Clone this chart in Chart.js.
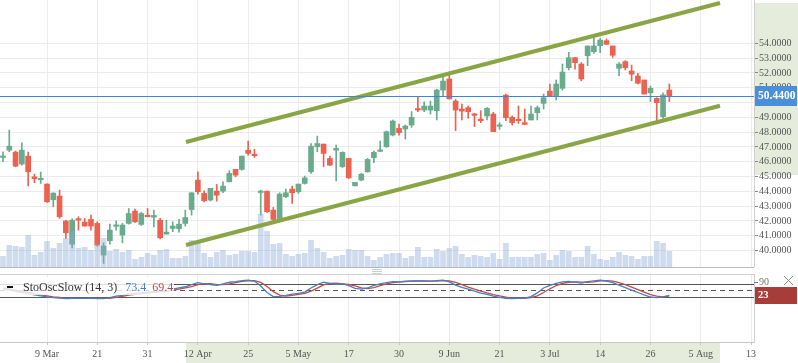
<!DOCTYPE html>
<html><head><meta charset="utf-8">
<script src="https://cdn.jsdelivr.net/npm/chart.js@4.4.1/dist/chart.umd.min.js"></script>
<style>html,body{margin:0;padding:0;background:#fff;overflow:hidden}canvas{display:block}</style>
</head><body>
<canvas id="c" width="798" height="363"></canvas>
<script>
// ---- data ----
const openP = [
46.29,46.78,46.65,45.84,46.38,44.98,44.78,44.49,43.43,43.68,
41.99,40.43,42.10,41.92,42.10,41.83,39.69,40.66,41.63,41.04,
41.83,42.66,41.76,42.32,42.25,42.05,41.11,41.49,41.47,41.83,
42.77,44.76,43.86,43.41,44.01,44.01,44.64,45.48,45.48,46.78,
46.51,43.92,44.01,42.73,42.10,43.63,44.15,43.97,44.53,45.32,
47.01,47.19,46.22,46.78,45.66,46.22,44.37,44.76,45.32,46.27,
46.70,47.01,47.80,48.25,48.21,48.48,49.56,49.49,49.49,49.45,
50.84,51.59,50.10,49.56,49.65,49.18,48.88,49.09,49.22,48.39,
50.50,49.00,48.82,48.64,48.82,49.31,49.94,50.77,50.44,50.96,
52.35,53.03,52.60,53.16,53.43,53.84,54.18,53.82,52.31,52.76,
52.13,51.79,51.52,50.66,50.28,49.04,50.84];
const highP = [
46.67,48.14,46.72,47.28,46.65,45.16,45.30,44.50,43.90,44.08,
42.05,42.14,42.28,42.17,42.39,41.94,40.52,41.78,41.99,41.83,
42.84,42.80,42.59,42.84,42.73,42.17,42.05,41.94,42.10,42.73,
43.90,45.32,44.04,44.20,44.46,44.64,45.39,45.48,46.38,47.39,
46.83,44.08,44.01,42.91,43.90,44.15,44.35,44.49,45.03,47.23,
47.73,47.19,46.38,47.12,46.67,46.22,44.60,45.21,46.22,46.72,
47.40,48.07,48.82,48.55,48.48,49.38,50.39,50.05,50.10,50.89,
51.74,51.97,50.21,49.90,49.76,49.27,49.45,49.65,49.33,48.64,
50.57,49.09,49.76,49.56,49.76,49.76,50.57,51.25,51.52,52.60,
53.39,53.03,52.69,53.82,54.52,54.34,54.29,53.82,52.69,52.83,
52.53,51.97,51.52,51.11,50.33,50.66,51.25];
const lowP = [
46.00,46.67,45.66,45.77,44.37,44.58,44.53,43.25,42.95,42.17,
40.82,40.18,41.38,41.65,41.38,40.30,39.13,40.43,41.38,40.52,
41.78,41.89,41.69,42.28,41.60,40.79,41.11,41.27,41.24,41.65,
42.39,43.81,43.29,43.34,43.34,43.90,44.64,44.98,45.43,46.45,
46.29,42.39,42.57,42.01,42.05,43.57,43.18,43.86,44.49,45.21,
46.67,45.66,45.73,44.71,45.61,44.87,44.37,44.71,45.28,45.93,
46.68,46.97,47.74,47.80,47.53,48.32,49.38,49.38,49.22,48.82,
50.44,50.24,48.10,48.82,48.93,48.37,48.64,48.82,48.03,48.19,
48.77,48.48,48.59,48.52,48.82,48.82,49.56,50.44,50.17,50.84,
52.20,52.26,51.47,52.49,53.32,53.37,53.93,53.05,51.81,52.20,
51.47,51.25,50.57,50.06,48.75,48.93,50.06];
const closeP = [
46.31,47.05,45.70,46.78,45.32,44.85,44.82,43.29,43.88,42.28,
41.20,42.05,42.05,41.65,41.65,40.36,40.30,41.38,41.67,41.72,
42.50,41.94,42.50,42.28,42.37,40.86,41.24,41.65,41.78,42.23,
43.90,43.97,43.36,44.20,43.74,44.35,45.21,45.09,46.38,46.56,
46.40,43.96,42.62,42.10,43.81,43.90,43.90,44.49,44.91,47.05,
47.23,46.56,45.77,46.90,46.63,44.91,44.60,45.16,46.15,46.63,
46.75,48.03,48.75,47.96,48.41,49.00,49.49,49.76,49.76,50.84,
51.45,50.24,49.49,49.42,49.38,49.13,48.77,49.60,48.03,48.43,
48.97,48.64,48.77,48.52,49.22,49.65,50.32,50.44,51.25,52.06,
53.03,52.69,51.59,53.82,53.82,54.22,53.93,53.19,52.60,52.35,
51.92,51.30,50.57,50.96,49.99,50.51,50.46];
const volumeM = [
1.1,2.2,2.1,2.0,3.2,1.2,1.5,2.6,1.9,2.4,
2.9,3.6,1.9,2.0,1.7,2.3,2.9,1.6,1.8,1.5,
1.7,0.8,1.0,1.4,1.2,1.7,1.8,0.9,0.9,1.1,
2.7,2.5,1.4,1.0,1.5,1.7,1.2,1.3,1.6,1.6,
1.5,5.3,3.6,2.3,2.4,1.3,1.1,1.3,1.4,2.7,
1.9,1.5,0.9,1.1,1.2,1.8,1.7,1.7,1.1,0.7,
1.0,1.3,1.4,1.4,0.9,1.1,2.0,1.0,1.0,1.8,
1.6,1.9,2.1,1.3,1.0,1.2,1.1,1.0,1.4,0.8,
2.4,1.0,1.0,1.0,1.0,1.3,1.4,0.7,1.2,1.7,
1.6,1.0,1.0,2.1,1.3,0.8,0.7,1.0,1.5,1.2,
1.1,0.8,1.1,1.1,2.6,2.4,1.6];
const stochK = [
58,52,46,41,34,28,24,19,15,13,
10,12,11,11,13,10,10,15,22,26,
33,35,38,41,44,46,49,56,62,68,
78,88,82,78,75,82,90,93,98,100,
96,72,40,20,21,26,32,36,42,62,
78,90,84,80,83,73,60,56,62,75,
82,88,93,92,95,97,96,95,95,98,
100,92,76,65,57,47,37,31,22,16,
12,10,12,13,20,38,62,75,85,92,
94,91,86,93,97,100,96,88,76,64,
52,40,28,18,15,19,26];
const stochD = [
62,57,52,46,40,34,29,24,19,16,
13,12,11,11,12,12,11,12,16,21,
27,31,35,38,41,44,46,50,56,62,
69,78,83,83,78,78,82,88,94,97,
98,89,69,44,27,22,26,31,36,47,
61,77,84,85,82,79,72,63,59,64,
73,82,88,91,93,95,96,96,95,96,
98,97,89,78,66,56,47,38,30,23,
17,13,12,12,15,24,40,58,74,84,
90,92,91,90,92,97,98,95,88,78,
66,54,42,30,22,18,23];
const xTickIndex = [7,15,23,31,39,47,55,63,71,79,87,95,103,111,119];
const xTickLabels = ['9 Mar','21','31','12 Apr','25','5 May','17','30','9 Jun','21','3 Jul','14','26','5 Aug','13'];
const priceTicks = [40,41,42,43,44,45,46,47,48,49,50,51,52,53,54];
const channelX = [29.11, 114.06];
const channelUpper = [47.33, 56.72];
const channelLower = [40.37, 49.78];
const channelHighlight = [45.1, 56.72];
const lastPrice = 50.44;
const oscLevels = [80, 50, 20];
const oscTopLabel = 90;
const oscLast = 23;
const legendName = 'StoOscSlow (14, 3)';
const legendValues = ['73.4', '69.4'];

// ---- styling ----
const GREEN = '#6aab8e', RED = '#ec6250';
const CHANNEL = '#8aa545';
const K_COLOR = '#4a7fc1', D_COLOR = '#c24b47';
const SERIF = "'Liberation Serif', 'Times New Roman', serif";
const OSC_TOP = 274;

const idx = openP.map((_, i) => i);
const candleColors = idx.map(i => closeP[i] >= openP[i] ? GREEN : RED);

const deco = {
  id: 'deco',
  beforeDraw(chart) {
    const {ctx, chartArea: a, scales: {x, y}} = chart;
    ctx.save();
    ctx.fillStyle = '#fff';
    ctx.fillRect(0, 0, chart.width, chart.height);
    ctx.fillStyle = '#e5ecdb';
    const t = y.getPixelForValue(channelHighlight[1]), b = y.getPixelForValue(channelHighlight[0]);
    ctx.fillRect(a.right + 1, t, chart.width - a.right - 1, b - t);
    const l = x.getPixelForValue(channelX[0]), r = x.getPixelForValue(channelX[1]);
    ctx.fillRect(l, a.bottom + 1, r - l, chart.height - a.bottom - 1);
    ctx.restore();
  },
  beforeDatasetsDraw(chart) {
    const {ctx, chartArea: a, scales: {yv, yo}} = chart;
    const base = Math.round(yv.getPixelForValue(0));
    ctx.save();
    ctx.fillStyle = '#fff';
    ctx.fillRect(0, base, a.right + 2, OSC_TOP - base);
    ctx.lineWidth = 1;
    ctx.strokeStyle = '#bdbdbd';
    ctx.beginPath(); ctx.moveTo(0, base + 0.5); ctx.lineTo(a.right, base + 0.5); ctx.stroke();
    ctx.strokeStyle = '#d2d2d2';
    ctx.beginPath(); ctx.moveTo(0, OSC_TOP + 0.5); ctx.lineTo(a.right, OSC_TOP + 0.5); ctx.stroke();
    oscLevels.forEach((v, k) => {
      const py = Math.round(yo.getPixelForValue(v)) + 0.5;
      ctx.strokeStyle = '#555';
      ctx.setLineDash(k === 1 ? [5, 4] : []);
      ctx.beginPath(); ctx.moveTo(0, py); ctx.lineTo(a.right, py); ctx.stroke();
    });
    ctx.setLineDash([]);
    ctx.restore();
  },
  afterDatasetsDraw(chart) {
    const {ctx, chartArea: a, scales: {y}} = chart;
    const py = Math.round(y.getPixelForValue(lastPrice)) + 0.5;
    ctx.save();
    ctx.strokeStyle = '#3a89d8'; ctx.lineWidth = 1;
    ctx.beginPath(); ctx.moveTo(0, py); ctx.lineTo(a.right, py); ctx.stroke();
    ctx.restore();
  },
  afterDraw(chart) {
    const {ctx, chartArea: a, scales: {y, yo}} = chart;
    ctx.save();
    // price label
    const py = y.getPixelForValue(lastPrice);
    ctx.fillStyle = '#4a8fd8';
    ctx.fillRect(a.right + 1, Math.round(py) - 10, chart.width - a.right - 2, 20);
    ctx.fillStyle = '#fff';
    ctx.font = 'bold 11.5px ' + SERIF;
    ctx.textBaseline = 'middle';
    ctx.fillText(lastPrice.toFixed(4), a.right + 4, Math.round(py) + 0.5);
    // osc legend box
    ctx.fillStyle = 'rgba(255,255,255,0.8)';
    ctx.fillRect(0, 277, 174, 18);
    ctx.fillStyle = '#111';
    ctx.fillRect(7, 286, 6, 2);
    ctx.font = '12px ' + SERIF;
    ctx.fillStyle = '#333';
    ctx.fillText(legendName, 23, 287.5);
    let tx = 23 + ctx.measureText(legendName).width + 8;
    ctx.fillStyle = K_COLOR; ctx.fillText(legendValues[0], tx, 287.5);
    tx += ctx.measureText(legendValues[0]).width + 6;
    ctx.fillStyle = D_COLOR; ctx.fillText(legendValues[1], tx, 287.5);
    // osc axis label 90
    const p90 = Math.round(yo.getPixelForValue(oscTopLabel)) + 0.5;
    ctx.strokeStyle = '#777'; ctx.lineWidth = 1;
    ctx.beginPath(); ctx.moveTo(a.right, p90); ctx.lineTo(a.right + 4, p90); ctx.stroke();
    ctx.fillStyle = '#777';
    ctx.font = '10px ' + SERIF;
    ctx.fillText(String(oscTopLabel), a.right + 5, p90);
    // osc last value box
    const pl = Math.round(yo.getPixelForValue(oscLast)) - 1;
    ctx.fillStyle = '#a83c38';
    ctx.fillRect(a.right + 1, pl - 8, chart.width - a.right - 2, 17);
    ctx.fillStyle = '#fff';
    ctx.font = 'bold 10.5px ' + SERIF;
    ctx.fillText(String(oscLast), a.right + 4, pl + 0.5);
    // close icon
    ctx.strokeStyle = '#8a8a8a';
    ctx.beginPath();
    ctx.moveTo(784, 276); ctx.lineTo(793, 285);
    ctx.moveTo(793, 276); ctx.lineTo(784, 285);
    ctx.stroke();
    // panel drag handle
    ctx.strokeStyle = '#cfcfcf';
    const cx = a.left + (a.right - a.left) / 2;
    [269.5, 271.5, 273.5].forEach(hy => {
      ctx.beginPath(); ctx.moveTo(cx - 5, hy); ctx.lineTo(cx + 5, hy); ctx.stroke();
    });
    ctx.restore();
  }
};

new Chart(document.getElementById('c').getContext('2d'), {
  type: 'bar',
  data: {
    datasets: [
      {type: 'line', label: 'Channel upper', data: channelX.map((v, k) => ({x: v, y: channelUpper[k]})),
        yAxisID: 'y', borderColor: CHANNEL, borderWidth: 4, pointRadius: 0, order: 0},
      {type: 'line', label: 'Channel lower', data: channelX.map((v, k) => ({x: v, y: channelLower[k]})),
        yAxisID: 'y', borderColor: CHANNEL, borderWidth: 4, pointRadius: 0, order: 0},
      {type: 'line', label: '%K', data: idx.map(i => ({x: i, y: stochK[i]})),
        yAxisID: 'yo', borderColor: K_COLOR, borderWidth: 1.3, pointRadius: 0, tension: 0, order: 1},
      {type: 'line', label: '%D', data: idx.map(i => ({x: i, y: stochD[i]})),
        yAxisID: 'yo', borderColor: D_COLOR, borderWidth: 1.3, pointRadius: 0, tension: 0, order: 1},
      {type: 'bar', label: 'Volume', data: idx.map(i => ({x: i, y: volumeM[i]})),
        yAxisID: 'yv', backgroundColor: 'rgba(140,170,215,0.42)', barThickness: 5, grouped: false, order: 2},
      {type: 'bar', label: 'Body', data: idx.map(i => ({x: i, y: [openP[i], closeP[i]]})),
        yAxisID: 'y', backgroundColor: candleColors, barThickness: 5, minBarLength: 1.5, grouped: false, order: 3},
      {type: 'bar', label: 'Wick', data: idx.map(i => ({x: i, y: [lowP[i], highP[i]]})),
        yAxisID: 'y', backgroundColor: candleColors, barThickness: 1, grouped: false, order: 4}
    ]
  },
  options: {
    responsive: false,
    devicePixelRatio: 1,
    animation: false,
    events: [],
    layout: {padding: 0},
    plugins: {legend: {display: false}, tooltip: {enabled: false}},
    scales: {
      x: {
        type: 'linear', position: 'bottom', min: -0.477, max: 119.47, bounds: 'data', offset: false,
        afterBuildTicks: s => { s.ticks = xTickIndex.map(v => ({value: v})); },
        afterFit: s => { s.height = 21; s.paddingLeft = 0; s.paddingRight = 0; },
        ticks: {autoSkip: false, maxRotation: 0, padding: 3, color: '#555', font: {family: SERIF, size: 10},
          callback: v => { const k = xTickIndex.indexOf(v); return k >= 0 ? xTickLabels[k] : ''; }},
        grid: {color: '#ececec', tickColor: '#c4c4c4', tickLength: 3, offset: false},
        border: {color: '#c8c8c8'}
      },
      y: {
        type: 'linear', position: 'right', min: 33.818, max: 56.926, bounds: 'data',
        afterBuildTicks: s => { s.ticks = priceTicks.map(v => ({value: v})); },
        afterFit: s => { s.width = 44; s.paddingTop = 0; s.paddingBottom = 0; },
        ticks: {padding: 1, color: '#555', font: {family: SERIF, size: 10}, callback: v => Number(v).toFixed(4)},
        grid: {color: '#ebebeb', tickColor: '#888', tickLength: 4},
        border: {color: '#d0d0d0'}
      },
      yv: {type: 'linear', display: false, min: -7.47, max: 26.73, bounds: 'data'},
      yo: {type: 'linear', display: false, min: -201.5, max: 1466.8, bounds: 'data'}
    }
  },
  plugins: [deco]
});
</script>
</body></html>
